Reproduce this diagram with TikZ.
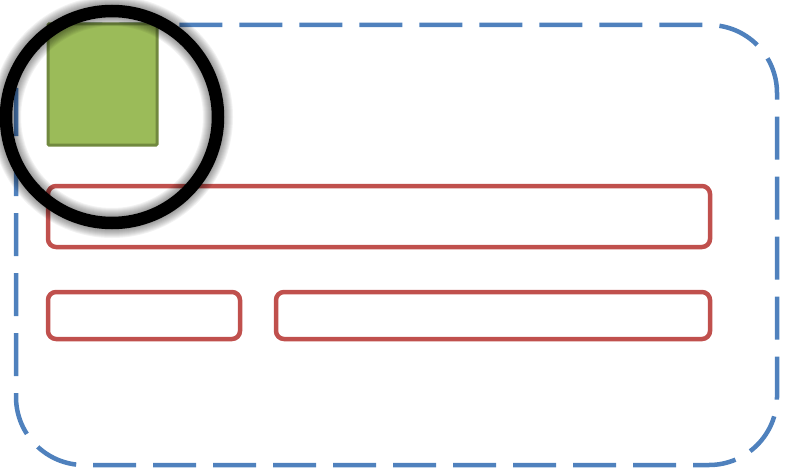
\documentclass[tikz,border=0pt]{standalone}
\definecolor{cardblue}{HTML}{4F81BD}
\definecolor{fieldred}{HTML}{C0504D}
\definecolor{photogreen}{HTML}{9BBB59}
\definecolor{photoedge}{HTML}{71893F}
\tikzset{
  card/.style={draw=cardblue, line width=4.5pt, dash pattern=on 43pt off 17pt, rounded corners=68pt},
  field/.style={draw=fieldred, line width=4.5pt, rounded corners=8pt},
  photo/.style={draw=photoedge, fill=photogreen, line width=3pt, rounded corners=1pt},
  lens/.style={draw=black, line width=12.5pt},
  lensglow/.style={draw=black, draw opacity=0.05}
}
\begin{document}
\begin{tikzpicture}[x=1pt,y=-1pt]
\useasboundingbox (0,0) rectangle (789,476);
\draw[card] (16,25) rectangle (777,465);
\draw[photo] (48,24) rectangle (157,145);
\draw[field] (48,186) rectangle (710,247);
\draw[field] (48,292) rectangle (240,339);
\draw[field] (276,292) rectangle (710,339);
\foreach \w in {14,16,18,20,22,24,26,28,30}
  \draw[lensglow, line width=\w pt] (112,117) circle[radius=106];
\node[lens, circle, minimum size=212pt, inner sep=0pt] (lensnode) at (112,117) {};
\end{tikzpicture}
\end{document}
